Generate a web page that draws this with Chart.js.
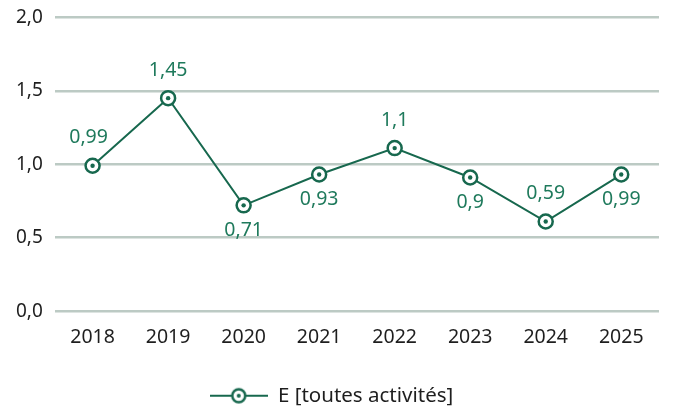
<!DOCTYPE html>
<html lang="fr">
<head>
<meta charset="utf-8">
<script src="https://cdn.jsdelivr.net/npm/chart.js@4"></script>
<style>
  html, body { margin: 0; padding: 0; background: #fff; }
  #wrap { width: 673px; height: 407px; position: relative; overflow: hidden; }
  #box { position: absolute; left: 0; top: -6px; width: 673px; height: 413px; }
</style>
</head>
<body>
<div id="wrap"><div id="box"><canvas id="chart"></canvas></div></div>
<script>
const years      = ['2018', '2019', '2020', '2021', '2022', '2023', '2024', '2025'];
const values     = [0.99, 1.45, 0.72, 0.93, 1.11, 0.91, 0.61, 0.93];
const valueText  = ['0,99', '1,45', '0,71', '0,93', '1,1', '0,9', '0,59', '0,99'];
const labelSide  = ['up', 'up', 'down', 'down', 'up', 'down', 'up', 'down'];
const yTicks     = [0, 0.5, 1, 1.5, 2];
const seriesName = 'E [toutes activités]';

const GREEN = '#17684e';
const LABEL_GREEN = '#1f7a5c';
const FONT = "'Noto Sans', 'Open Sans', sans-serif";

// legend symbol: line with the ringed marker in the middle
function legendSymbol() {
  const c = document.createElement('canvas');
  c.width = 58; c.height = 20;
  const g = c.getContext('2d');
  g.strokeStyle = GREEN; g.lineWidth = 2;
  g.beginPath(); g.moveTo(0, 10); g.lineTo(58, 10); g.stroke();
  g.fillStyle = '#fff'; g.lineWidth = 2.5;
  g.beginPath(); g.arc(29, 10, 6.5, 0, Math.PI * 2); g.fill(); g.stroke();
  g.fillStyle = GREEN;
  g.beginPath(); g.arc(29, 10, 2, 0, Math.PI * 2); g.fill();
  return c;
}

const markerExtras = {
  id: 'markerExtras',
  afterDatasetsDraw(chart) {
    const ctx = chart.ctx;
    const meta = chart.getDatasetMeta(0);
    ctx.save();
    meta.data.forEach((pt, i) => {
      ctx.fillStyle = GREEN;
      ctx.beginPath(); ctx.arc(pt.x, pt.y, 2.2, 0, Math.PI * 2); ctx.fill();
      ctx.fillStyle = LABEL_GREEN;
      ctx.font = '19.5px ' + FONT;
      ctx.textAlign = 'center';
      ctx.textBaseline = 'middle';
      const dy = labelSide[i] === 'up' ? -28 : 25;
      const dx = labelSide[i] === 'up' && i === 0 ? -4 : 0;
      ctx.fillText(valueText[i], pt.x + dx, pt.y + dy);
    });
    ctx.restore();
  }
};

new Chart(document.getElementById('chart'), {
  type: 'line',
  data: {
    labels: years,
    datasets: [{
      label: seriesName,
      data: values,
      borderColor: GREEN,
      borderWidth: 2,
      pointRadius: 7,
      pointBorderWidth: 2.5,
      pointBackgroundColor: '#fff',
      pointBorderColor: GREEN,
      tension: 0,
    }]
  },
  options: {
    responsive: true,
    maintainAspectRatio: false,
    animation: false,
    layout: { padding: { left: 4, right: 14, top: 0, bottom: -9 } },
    plugins: {
      legend: {
        position: 'bottom',
        labels: {
          usePointStyle: true,
          pointStyleWidth: 58,
          generateLabels: () => [{
            text: seriesName,
            pointStyle: legendSymbol(),
            fontColor: '#1e1e1e',
            lineWidth: 0,
          }],
          color: '#1e1e1e',
          font: { size: 20.5, family: FONT },
          padding: 21,
        },
      },
      tooltip: { enabled: false },
    },
    scales: {
      x: {
        offset: true,
        grid: { display: false, drawTicks: false },
        border: { display: false },
        ticks: { color: '#1e1e1e', font: { size: 19.5, family: FONT }, padding: 15 },
      },
      y: {
        min: 0, max: 2,
        afterBuildTicks: axis => { axis.ticks = yTicks.map(v => ({ value: v })); },
        grid: { color: '#bccac4', lineWidth: 2.5, drawTicks: false },
        border: { display: false },
        ticks: {
          color: '#1e1e1e',
          font: { size: 19, family: FONT },
          padding: 12,
          callback: v => v.toFixed(1).replace('.', ','),
        },
      }
    }
  },
  plugins: [markerExtras]
});
</script>
</body>
</html>
